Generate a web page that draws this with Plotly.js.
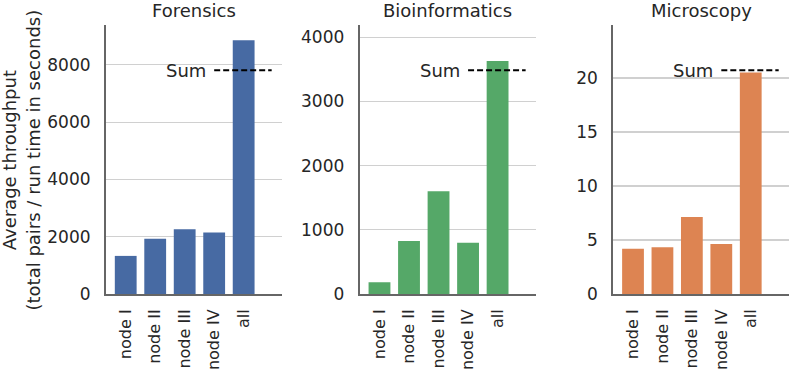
<!DOCTYPE html>
<html>
<head>
<meta charset="utf-8">
<script src="https://cdn.plot.ly/plotly-3.0.1.min.js"></script>
<style>
  html, body { margin: 0; padding: 0; background: #fff; }
  #chart { width: 789px; height: 374px; }
</style>
</head>
<body>
<div id="chart"></div>
<script>
var nodes = ['node I', 'node II', 'node III', 'node IV', 'all'];
var panelTitles = ['Forensics', 'Bioinformatics', 'Microscopy'];

var forensics = [1330, 1930, 2260, 2150, 8860];
var bioinformatics = [182, 826, 1600, 800, 3630];
var microscopy = [4.2, 4.32, 7.13, 4.63, 20.5];

// where the dashed "Sum" line sits in each panel
var sums = [7810, 3485, 20.7];

var colors = ['#476aa3', '#55a868', '#dd8452'];
var textColor = '#262626';
var font = 'DejaVu Sans, sans-serif';

var series = [forensics, bioinformatics, microscopy];
var yRanges = [[0, 9390], [0, 4190], [0, 24.9]];
var yDticks = [2000, 1000, 5];
var xDomains = [[0.1343, 0.3574], [0.4559, 0.6793], [0.7773, 1]];

var data = [];
var annotations = [];
var layout = {
    width: 789,
    height: 374,
    margin: {l: 0, r: 0, t: 25, b: 80},
    paper_bgcolor: '#ffffff',
    plot_bgcolor: '#ffffff',
    showlegend: false,
    font: {family: font, size: 16, color: textColor}
};

for (var i = 0; i < 3; i++) {
    var sfx = i === 0 ? '' : String(i + 1);
    var xa = 'x' + sfx, ya = 'y' + sfx;

    data.push({
        type: 'bar', x: [0, 1, 2, 3, 4], y: series[i],
        xaxis: xa, yaxis: ya, width: 0.74,
        marker: {color: colors[i], line: {width: 0}},
        hoverinfo: 'skip'
    });
    data.push({
        type: 'scatter', mode: 'lines', x: [3, 4.95], y: [sums[i], sums[i]],
        xaxis: xa, yaxis: ya,
        line: {color: '#000000', width: 2, dash: '6px,3px'},
        hoverinfo: 'skip'
    });

    layout['xaxis' + sfx] = {
        domain: xDomains[i], anchor: ya, range: [-0.67, 5.3],
        tickvals: [0, 1, 2, 3, 4], ticktext: nodes, tickangle: -90,
        showgrid: false, zeroline: false, showline: true,
        linecolor: '#666666', linewidth: 2, ticks: '',
        ticklabelstandoff: 7, tickfont: {size: 16, color: textColor}
    };
    layout['yaxis' + sfx] = {
        domain: [0, 1], anchor: xa, range: yRanges[i], dtick: yDticks[i], tick0: 0,
        showgrid: true, gridcolor: '#d0d0d0', gridwidth: 1.2,
        zeroline: false, showline: true, linecolor: '#666666', linewidth: 2,
        ticks: '', ticklabelstandoff: 10, tickfont: {size: 17, color: textColor}
    };

    annotations.push({
        xref: xa + ' domain', yref: 'paper', x: 0.5, y: 1, yshift: 15,
        xanchor: 'center', yanchor: 'middle', showarrow: false,
        text: panelTitles[i], font: {size: 18, color: textColor}
    });
    annotations.push({
        xref: xa, yref: ya, x: 3, y: sums[i], xshift: -6,
        xanchor: 'right', yanchor: 'middle', showarrow: false,
        text: 'Sum', font: {size: 18, color: textColor}
    });
}

annotations.push({
    xref: 'paper', yref: 'paper', x: 0.0266, y: 0.5,
    xanchor: 'center', yanchor: 'middle', showarrow: false, textangle: -90,
    text: 'Average throughput<br>(total pairs / run time in seconds)',
    font: {size: 18, color: textColor}
});
layout.annotations = annotations;

Plotly.newPlot('chart', data, layout, {staticPlot: true});
</script>
</body>
</html>
